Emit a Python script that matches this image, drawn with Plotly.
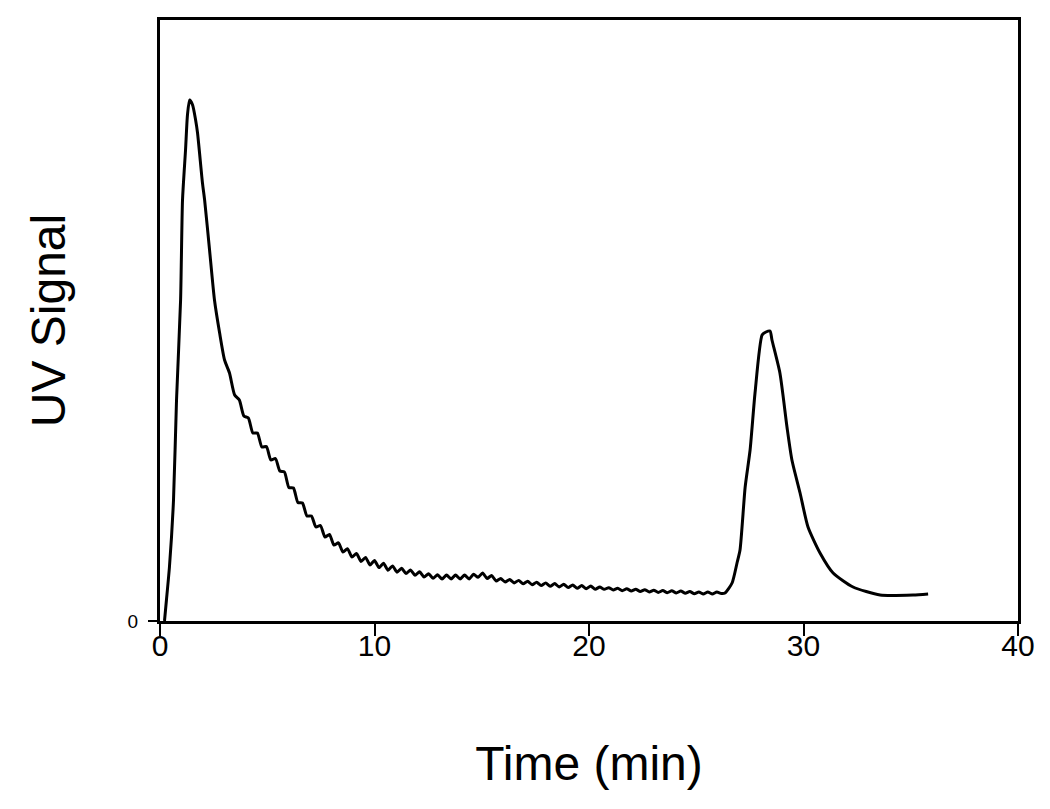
import plotly.graph_objects as go

# Time (min) and UV signal (arbitrary units, 0..601 full scale)
time_peak1 = [0.21, 0.30, 0.44, 0.63, 0.77, 0.96, 1.05, 1.19, 1.28, 1.38, 1.52, 1.66,
              1.75, 1.98, 2.08, 2.31, 2.54, 2.78, 3.01, 3.24, 3.48]
signal_peak1 = [0, 21, 54, 121, 221, 321, 421, 471, 506, 521, 516, 501,
                488, 438, 421, 371, 321, 288, 261, 248, 226]

time_tail = [3.70, 3.91, 4.12, 4.33, 4.54, 4.75, 4.96, 5.17, 5.38, 5.59,
             5.80, 6.01, 6.22, 6.43, 6.64, 6.85, 7.06, 7.27, 7.48, 7.69,
             7.90, 8.11, 8.32, 8.53, 8.74, 8.95, 9.16, 9.37, 9.58, 9.79,
             10.00, 10.21, 10.42, 10.63, 10.84, 11.05, 11.26, 11.47, 11.68, 11.89,
             12.10, 12.31, 12.52, 12.73, 12.94, 13.15, 13.36, 13.57, 13.78, 13.99,
             14.20, 14.41, 14.62, 14.83, 15.04, 15.25, 15.46, 15.67, 15.88, 16.09,
             16.30, 16.51, 16.72, 16.93, 17.14, 17.35, 17.56, 17.77, 17.98, 18.19,
             18.40, 18.61, 18.82, 19.03, 19.24, 19.45, 19.66, 19.87, 20.08, 20.29,
             20.50, 20.71, 20.92, 21.13, 21.34, 21.55, 21.76, 21.97, 22.18, 22.39,
             22.60, 22.81, 23.02, 23.23, 23.44, 23.65, 23.86, 24.07, 24.28, 24.49,
             24.70, 24.91, 25.12, 25.33, 25.54, 25.75, 25.96, 26.17]
signal_tail = [221, 205, 203, 188, 188, 174, 174.5, 161, 162.5, 150,
               149, 133.5, 133, 118.5, 118, 105, 105, 94, 95.5, 84,
               86.5, 76, 78.2, 69, 72.3, 64, 67.6, 59.6, 63.6, 56,
               60.5, 53.4, 57.7, 50.8, 55.1, 48.8, 52.8, 47.5, 51, 45.7,
               49.2, 44, 47.2, 42.7, 46.2, 42, 46, 42, 46, 42,
               46, 42, 46.7, 43.7, 48, 42.5, 45.5, 40, 42.5, 39,
               41.5, 38.1, 40.6, 37.2, 39.7, 36.3, 38.8, 35.4, 38.1, 34.7,
               37.4, 34.1, 36.7, 33.4, 36, 32.7, 35.4, 32.2, 35, 31.7,
               34, 31.7, 33.3, 31, 32.7, 30.3, 32.2, 30, 31.7, 29.5,
               31.3, 29, 30.8, 28.6, 30.4, 28.3, 30.2, 28.1, 30, 27.8,
               29.5, 27.3, 29, 27, 29, 27, 29, 27.5]

time_peak2 = [26.34, 26.67, 26.90, 27.04, 27.28, 27.51, 27.74, 28.07, 28.25, 28.44,
              28.53, 28.90, 29.23, 29.46, 29.84, 30.21, 30.77, 31.38, 32.31, 33.57,
              35.11, 35.81]
signal_peak2 = [28, 38, 58, 71, 134, 171, 228, 286, 289, 290,
                281, 248, 194, 161, 128, 94, 68, 48, 34, 26,
                26, 27]

x_ticks = [0, 10, 20, 30, 40]
y_ticks = [0]
y_ticktext = ["0"]

time = time_peak1 + time_tail + time_peak2
signal = signal_peak1 + signal_tail + signal_peak2

FONT = "Liberation Sans, Arial, sans-serif"

fig = go.Figure()
fig.add_trace(go.Scatter(x=time, y=signal, mode="lines",
                         line=dict(color="black", width=3, shape="spline", smoothing=0.6),
                         showlegend=False))

# page body has an 8px margin, so the figure is sized/offset to compensate
fig.update_layout(
    width=1042, height=801,
    margin=dict(l=152, r=32, t=12, b=188),
    paper_bgcolor="white", plot_bgcolor="white",
    font=dict(family=FONT, color="black"),
)
fig.update_xaxes(
    range=[0, 40], tickvals=x_ticks, ticks="outside", ticklen=12, tickwidth=2,
    tickcolor="black", showline=True, linecolor="black", linewidth=3, mirror=True,
    showgrid=False, zeroline=False, tickfont=dict(size=30, family=FONT),
    ticklabelstandoff=-16, automargin=False,
    title=dict(text="Time (min)", font=dict(size=48, family=FONT), standoff=86),
)
fig.update_yaxes(
    range=[0, 601], tickvals=y_ticks, ticktext=y_ticktext, ticks="outside", ticklen=9,
    tickwidth=2, tickcolor="black", showline=True, linecolor="black", linewidth=3,
    mirror=True, showgrid=False, zeroline=False, tickfont=dict(size=19, family=FONT),
    ticklabelstandoff=6, automargin=False,
    title=dict(text="UV Signal", font=dict(size=48, family=FONT), standoff=47),
)

fig.write_html("out.html")
